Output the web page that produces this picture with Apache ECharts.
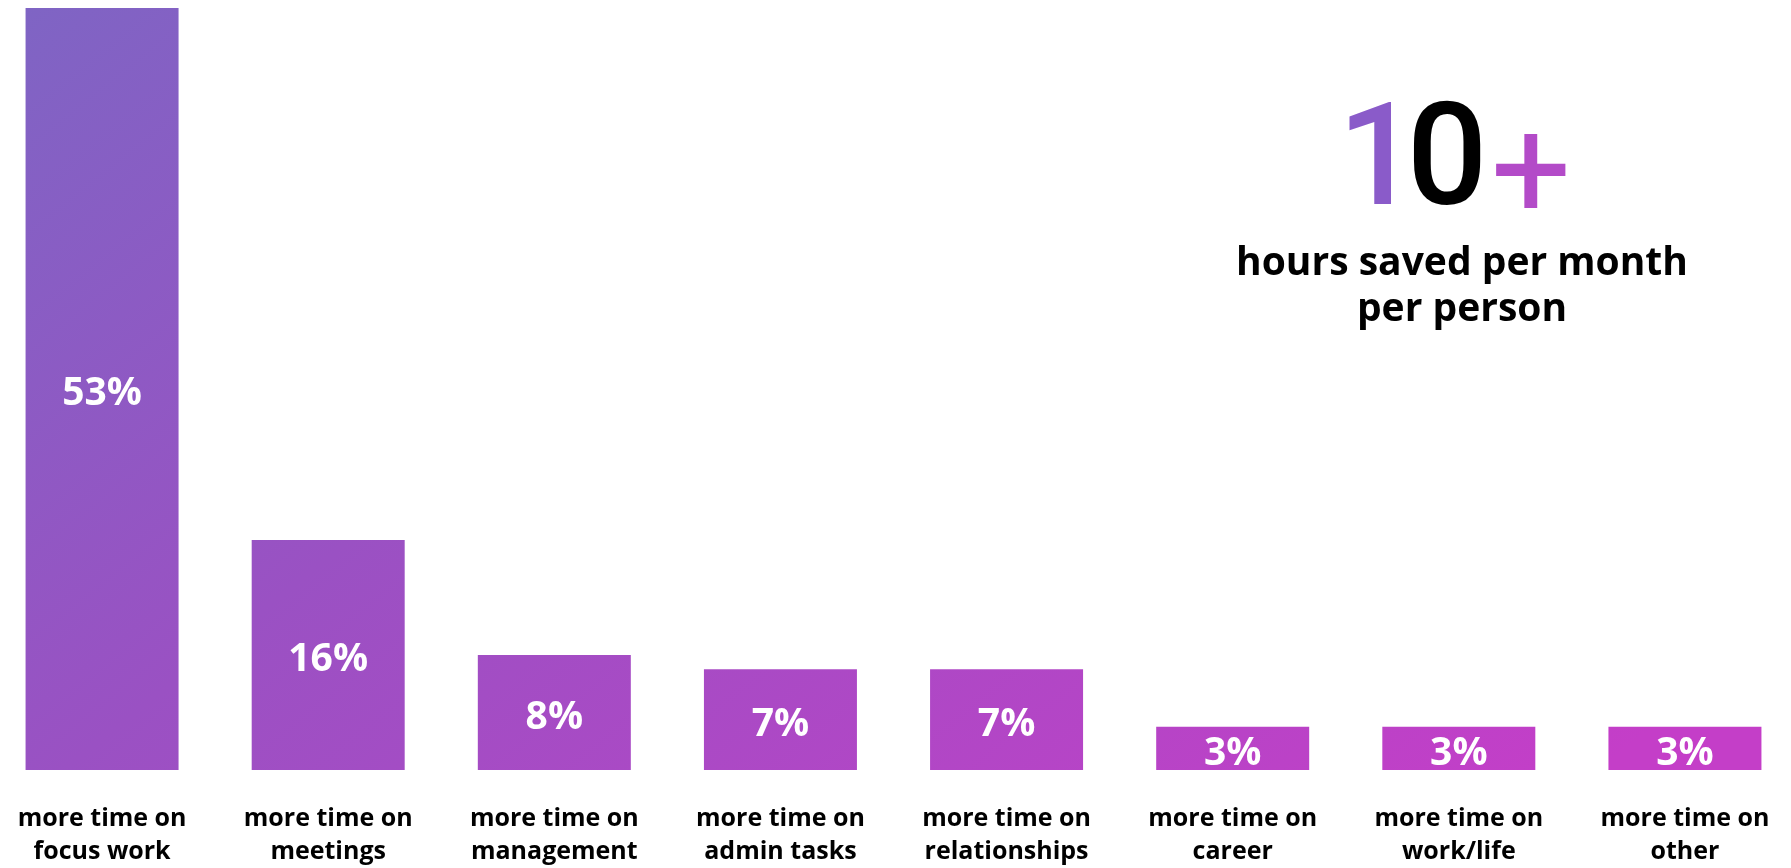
<!DOCTYPE html>
<html><head><meta charset="utf-8">
<script src="https://cdn.jsdelivr.net/npm/echarts@6/dist/echarts.min.js"></script>
<style>html,body{margin:0;padding:0;background:#fff;overflow:hidden;width:1791px;height:868px;position:relative}#c{position:absolute;left:-20px;top:0;width:1831px;height:868px}</style>
</head><body><div id="c"></div>
<script>
const categories = ['more time on\nfocus work','more time on\nmeetings','more time on\nmanagement','more time on\nadmin tasks','more time on\nrelationships','more time on\ncareer','more time on\nwork/life','more time on\nother'];
const values = [53,16,8,7,7,3,3,3];
const valueLabels = ['53%','16%','8%','7%','7%','3%','3%','3%'];
const bigNumber = ['1','0','+'];
const caption = 'hours saved per month\nper person';

const OFF = 20; // container is shifted 20px left
const chart = echarts.init(document.getElementById('c'));
const grad = {type:'linear', x:OFF, y:0, x2:OFF+1000, y2:1250, global:true,
  colorStops:[{offset:0,color:'#7e65c4'},{offset:0.4,color:'#9a51c3'},{offset:1,color:'#c43ec8'}]};
const FONT = '"Open Sans", "Noto Sans", sans-serif';
const BIG = 'Roboto, "Open Sans", sans-serif';
const bigStyle = (color, extra) => Object.assign({fontFamily:BIG,fontSize:142,fontWeight:500,color:color}, extra||{});
chart.setOption({
  backgroundColor:'#ffffff',
  animation:false,
  title:[{
    text:bigNumber[0], left:1373+OFF, top:92, textAlign:'center',
    textStyle:bigStyle('#8a5bc9')
  },{
    text:bigNumber[1], left:1442+OFF, top:92, textAlign:'center',
    textStyle:bigStyle('#000',{textShadowColor:'#a558cc',textShadowOffsetX:2,textShadowOffsetY:3,textShadowBlur:0})
  },{
    text:bigNumber[2], left:1526+OFF, top:106, textAlign:'center',
    textStyle:bigStyle('#b34bc8',{fontWeight:'normal'})
  },{
    text:caption, left:1457+OFF, top:236, textAlign:'center',
    textStyle:{fontFamily:FONT,fontSize:39,fontWeight:'bold',color:'#000',lineHeight:46}
  }],
  grid:{left:9,right:13,top:8,bottom:97,containLabel:false},
  xAxis:{type:'category',data:categories,
    axisLine:{show:false},axisTick:{show:false},
    axisLabel:{interval:0,margin:32,fontFamily:FONT,fontSize:25,fontWeight:'bold',color:'#000',lineHeight:33}},
  yAxis:{type:'value',min:0,max:53,show:false,splitLine:{show:false}},
  series:[{type:'bar',data:values,barWidth:153,
    itemStyle:{color:grad},
    label:{show:true,position:'inside',offset:[0,5],formatter:p=>valueLabels[p.dataIndex],
      fontFamily:FONT,fontSize:39,fontWeight:'bold',color:'#fff'}}]
});
</script></body></html>
